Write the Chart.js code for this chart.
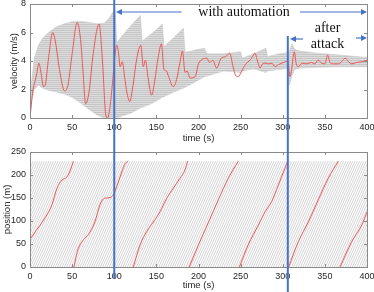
<!DOCTYPE html>
<html>
<head>
<meta charset="utf-8">
<script src="https://cdn.jsdelivr.net/npm/chart.js@4"></script>
<style>
  body { margin: 0; background: #fff; }
  #wrap { position: relative; width: 374px; height: 292px; }
  canvas { position: absolute; left: 0; }
  #velChart { top: 0; }
  #posChart { top: 145px; }
  #overlay { top: 0; pointer-events: none; }
</style>
</head>
<body>
<div id="wrap">
  <canvas id="velChart" width="374" height="145"></canvas>
  <canvas id="posChart" width="374" height="147"></canvas>
  <canvas id="overlay" width="374" height="292"></canvas>
</div>
<script>
// ticks
const timeTicks = [0, 50, 100, 150, 200, 250, 300, 350, 400];
const velTicks = [0, 2, 4, 6, 8];
const posTicks = [0, 50, 100, 150, 200, 250];

// red vehicle, velocity (m/s) over time (s)
const redVelT = [0, 2, 4, 6, 8, 10.5, 13, 16, 18, 22, 27, 30, 35, 41, 45, 50, 56, 60, 63, 66, 70, 75, 82, 86, 90, 92, 95, 98,
  101, 103, 105, 107, 109.5, 112.5, 115, 118.5, 122, 126, 129, 131.5, 134.5, 137, 139.5, 142, 144.5, 148, 152, 156, 159,
  162, 164, 170, 174, 178, 181, 184, 186.5, 190, 196, 200, 204, 210, 213, 217, 221.5, 227, 232, 237, 241, 244, 247, 251,
  255, 260, 263, 267, 270, 273, 276, 279, 283, 287, 291, 295, 299, 303, 306, 308.6, 310.5, 313.7, 316, 318.5, 323, 328,
  334, 338, 342, 346, 350, 353.3, 356, 360, 366, 370, 374, 378, 382, 388, 394, 400];
const redVel = [0, 1.2, 2.1, 2.6, 3.1, 3.85, 3.2, 2.2, 2.3, 4.2, 6.0, 5.4, 3.4, 1.9, 2.3, 4.5, 6.7, 5.5, 3.2, 1.0, 1.8, 4.5, 6.6, 4.0, 0.2, 0, 0.8, 2.5,
  4.5, 5.1, 4.6, 3.6, 3.95, 2.8, 1.8, 1.15, 2.2, 3.9, 4.8, 5.1, 3.6, 4.07, 3.1, 2.1, 1.6, 2.6, 4.2, 5.2, 3.4,
  3.3, 3.0, 2.2, 2.7, 3.9, 4.7, 3.2, 3.3, 2.8, 2.9, 3.8, 4.1, 4.2, 3.9, 4.05, 3.5, 4.2, 4.3, 4.55, 3.6, 3.0, 2.9, 3.25,
  3.7, 4.0, 4.2, 4.55, 4.0, 3.5, 3.8, 3.85, 3.8, 3.84, 3.6, 3.75, 3.85, 3.95, 4.0, 2.9, 3.4, 4.65, 3.8, 3.6, 3.85, 3.8,
  3.9, 3.8, 4.07, 3.85, 3.8, 4.42, 3.9, 3.8, 3.8, 3.95, 4.2, 3.95, 3.8, 3.9, 3.95, 4.05];

// grey band of all other vehicles (upper / lower edge)
const bandT = [0, 2, 5, 10, 15, 22, 30, 40, 50, 60, 70, 80, 88, 94, 98, 101, 103, 110, 120, 131, 133, 140, 150, 157, 159,
  170, 182, 184, 195, 207, 210, 230, 250, 252, 265, 280, 282, 295, 306, 308, 311, 314, 320, 340, 360, 380, 400];
const bandUpper = [0, 2.6, 4.2, 5.1, 5.6, 6.0, 6.35, 6.6, 6.75, 6.78, 6.7, 6.6, 6.65, 7.0, 7.4, 7.6, 5.3, 5.8, 6.5, 7.2, 5.4,
  5.7, 6.2, 6.6, 5.0, 5.6, 6.3, 4.6, 4.75, 4.9, 4.5, 4.5, 4.65, 4.2, 4.5, 4.9, 4.3, 4.5, 4.6, 4.7, 5.2, 4.8, 4.7, 4.55,
  4.45, 4.35, 4.25];
const bandLower = [0, 1.2, 2.0, 2.3, 2.1, 1.95, 1.85, 1.7, 1.45, 1.05, 0.6, 0.2, 0.02, 0, 0, 0, 0, 0.15, 0.35, 0.7, 0.75,
  0.9, 1.2, 1.45, 1.5, 1.8, 2.1, 2.15, 2.5, 2.9, 2.95, 3.3, 3.2, 3.3, 3.45, 3.2, 3.3, 3.4, 3.5, 2.3, 3.0, 3.4, 3.5, 3.55,
  3.6, 3.6, 3.6];

// red vehicle, position (m) on the 230 m ring, null = wrap
const redPosT = [0, 6, 12, 16, 20, 26, 32, 38, 44, 48, 51.5, 51.5,
  52.2, 55, 57.3, 63.3, 69.2, 77, 83, 87, 91, 95, 99, 103, 109, 113, 116.7, 116.7,
  122.6, 130.6, 138.5, 146.4, 154.3, 162.2, 170, 178, 184, 187, 187,
  189, 200, 212, 223.5, 235.4, 247.2, 247.2,
  248.5, 259, 271, 279, 286.8, 294.7, 302.7, 305.8, 305.8,
  307, 318.5, 330.4, 342.2, 354, 366, 366,
  368, 381.8, 393.7, 400];
const redPos = [60, 76, 91, 102, 113, 135, 171, 189, 196, 211, 230, null,
  0, 25, 40, 59, 70, 98, 135, 148, 150, 151, 157, 175, 207, 225, 230, null,
  0, 48, 77, 98, 120, 149, 171, 193, 211, 230, null,
  0, 48, 98, 146, 193, 230, null,
  0, 48, 91, 120, 142, 178, 215, 230, null,
  0, 55, 98, 146, 193, 230, null,
  0, 55, 91, 120];

const ringT = [0, 400];
const ringLen = [230, 230];

// annotations (time in s)
const automationT = 100;
const attackT = 306;

const RED = 'rgb(236, 88, 88)';
const BLUE = 'rgb(70, 115, 200)';
const SANS = '"Liberation Sans", Arial, sans-serif';
const AXIS = '#8a8a8a';
const TEXT = '#262626';

function toPoints(xs, ys) {
  return xs.map((x, i) => ({ x: x, y: ys[i] }));
}

function makePattern(w, h, draw) {
  const c = document.createElement('canvas');
  c.width = w;
  c.height = h;
  draw(c.getContext('2d'), w, h);
  return c.getContext('2d').createPattern(c, 'repeat');
}

// steep diagonal lines for the trajectories
const ringFill = makePattern(9, 20, (g, w, h) => {
  g.fillStyle = '#fff';
  g.fillRect(0, 0, w, h);
  g.strokeStyle = '#b9b9b9';
  g.lineWidth = 0.6;
  for (let x0 = -9; x0 <= 9; x0 += 2.25) {
    g.beginPath();
    g.moveTo(x0, h);
    g.lineTo(x0 + w, 0);
    g.stroke();
  }
});

// fine stripes for the velocity band
const bandFill = makePattern(8, 2, (g, w, h) => {
  g.fillStyle = '#dcdcdc';
  g.fillRect(0, 0, w, h);
  g.fillStyle = '#c6c6c6';
  g.fillRect(0, 0, w, 1);
});

// box round the plot with inward tick marks, like matlab
const boxPlugin = {
  id: 'box',
  afterDraw(chart) {
    const { ctx, chartArea: a, scales } = chart;
    ctx.save();
    ctx.strokeStyle = AXIS;
    ctx.lineWidth = 1;
    ctx.strokeRect(Math.round(a.left) + 0.5, Math.round(a.top) + 0.5,
      Math.round(a.right - a.left), Math.round(a.bottom - a.top));
    ctx.beginPath();
    scales.x.ticks.forEach(t => {
      const x = Math.round(scales.x.getPixelForValue(t.value)) + 0.5;
      ctx.moveTo(x, a.bottom); ctx.lineTo(x, a.bottom - 3);
      ctx.moveTo(x, a.top); ctx.lineTo(x, a.top + 3);
    });
    scales.y.ticks.forEach(t => {
      const y = Math.round(scales.y.getPixelForValue(t.value)) + 0.5;
      ctx.moveTo(a.left, y); ctx.lineTo(a.left + 3, y);
      ctx.moveTo(a.right, y); ctx.lineTo(a.right - 3, y);
    });
    ctx.stroke();
    ctx.restore();
  }
};

function axisOptions(yMin, yMax, yTicks, yTitle, yTitlePad, xHeight) {
  return {
    x: {
      type: 'linear', min: 0, max: 400,
      grid: { display: false, drawTicks: false }, border: { display: false },
      afterBuildTicks: s => { s.ticks = timeTicks.map(v => ({ value: v })); },
      ticks: { autoSkip: false, maxRotation: 0, padding: 4, color: TEXT, font: { family: SANS, size: 9 } },
      title: { display: true, text: 'time (s)', color: TEXT, font: { family: SANS, size: 9.5 }, padding: { top: 0, bottom: 1 } },
      afterFit: s => { s.height = xHeight; s.paddingLeft = 0; s.paddingRight = 0; }
    },
    y: {
      type: 'linear', min: yMin, max: yMax,
      grid: { display: false, drawTicks: false }, border: { display: false },
      afterBuildTicks: s => { s.ticks = yTicks.map(v => ({ value: v })); },
      ticks: { autoSkip: false, padding: 4, color: TEXT, font: { family: SANS, size: 9 } },
      title: { display: true, text: yTitle, color: TEXT, font: { family: SANS, size: 9.5 }, padding: { top: yTitlePad, bottom: 0 } },
      afterFit: s => { s.width = 30; s.paddingTop = 0; s.paddingBottom = 0; }
    }
  };
}

const baseOptions = {
  responsive: false,
  animation: false,
  devicePixelRatio: 1,
  plugins: { legend: { display: false }, tooltip: { enabled: false } },
  elements: { point: { radius: 0 } }
};

const velChart = new Chart(document.getElementById('velChart'), {
  type: 'line',
  data: {
    datasets: [
      { data: toPoints(redVelT, redVel), borderColor: RED, borderWidth: 1, cubicInterpolationMode: 'monotone', fill: false, order: 0 },
      { data: toPoints(bandT, bandUpper), borderColor: '#c8c8c8', borderWidth: 0.6, backgroundColor: bandFill, fill: '+1', order: 1 },
      { data: toPoints(bandT, bandLower), borderColor: '#c8c8c8', borderWidth: 0.6, fill: false, order: 2 }
    ]
  },
  options: Object.assign({}, baseOptions, {
    layout: { padding: { top: 4, right: 7, left: 0, bottom: 0 } },
    scales: axisOptions(0, 8, velTicks, 'velocity (m/s)', 9, 27)
  }),
  plugins: [boxPlugin]
});

const posChart = new Chart(document.getElementById('posChart'), {
  type: 'line',
  data: {
    datasets: [
      { data: toPoints(redPosT, redPos), borderColor: RED, borderWidth: 1, cubicInterpolationMode: 'monotone', spanGaps: false, fill: false, order: 0 },
      { data: toPoints(ringT, ringLen), borderWidth: 0, backgroundColor: ringFill, fill: 'origin', order: 1 }
    ]
  },
  options: Object.assign({}, baseOptions, {
    layout: { padding: { top: 7, right: 7, left: 0, bottom: 0 } },
    scales: axisOptions(0, 250, posTicks, 'position (m)', 2, 25)
  }),
  plugins: [boxPlugin]
});

// blue markers, arrows and labels drawn over both plots
function drawOverlay() {
  const ctx = document.getElementById('overlay').getContext('2d');
  const tx = t => velChart.scales.x.getPixelForValue(t);

  ctx.strokeStyle = BLUE;
  ctx.fillStyle = BLUE;
  ctx.lineWidth = 2;
  ctx.beginPath();
  ctx.moveTo(tx(automationT), 0); ctx.lineTo(tx(automationT), 279);
  ctx.moveTo(tx(attackT), 36); ctx.lineTo(tx(attackT), 292);
  ctx.stroke();

  function arrow(t1, t2, y) {
    const x1 = tx(t1), x2 = tx(t2);
    const dir = Math.sign(x2 - x1);
    ctx.lineWidth = 1.2;
    ctx.beginPath();
    ctx.moveTo(x1, y); ctx.lineTo(x2 - dir * 5, y);
    ctx.stroke();
    ctx.beginPath();
    ctx.moveTo(x2, y);
    ctx.lineTo(x2 - dir * 6, y - 3);
    ctx.lineTo(x2 - dir * 6, y + 3);
    ctx.closePath();
    ctx.fill();
  }
  arrow(180, 102, 12);
  arrow(320.5, 400, 12);
  arrow(324, 308.6, 39);
  arrow(387, 400, 38);

  ctx.fillStyle = '#111';
  ctx.font = '14px "Liberation Serif", "Times New Roman", serif';
  ctx.textAlign = 'center';
  ctx.textBaseline = 'middle';
  ctx.fillText('with automation', 244, 12);
  ctx.fillText('after', 327.5, 28);
  ctx.fillText('attack', 327.5, 44);
}
drawOverlay();
</script>
</body>
</html>
